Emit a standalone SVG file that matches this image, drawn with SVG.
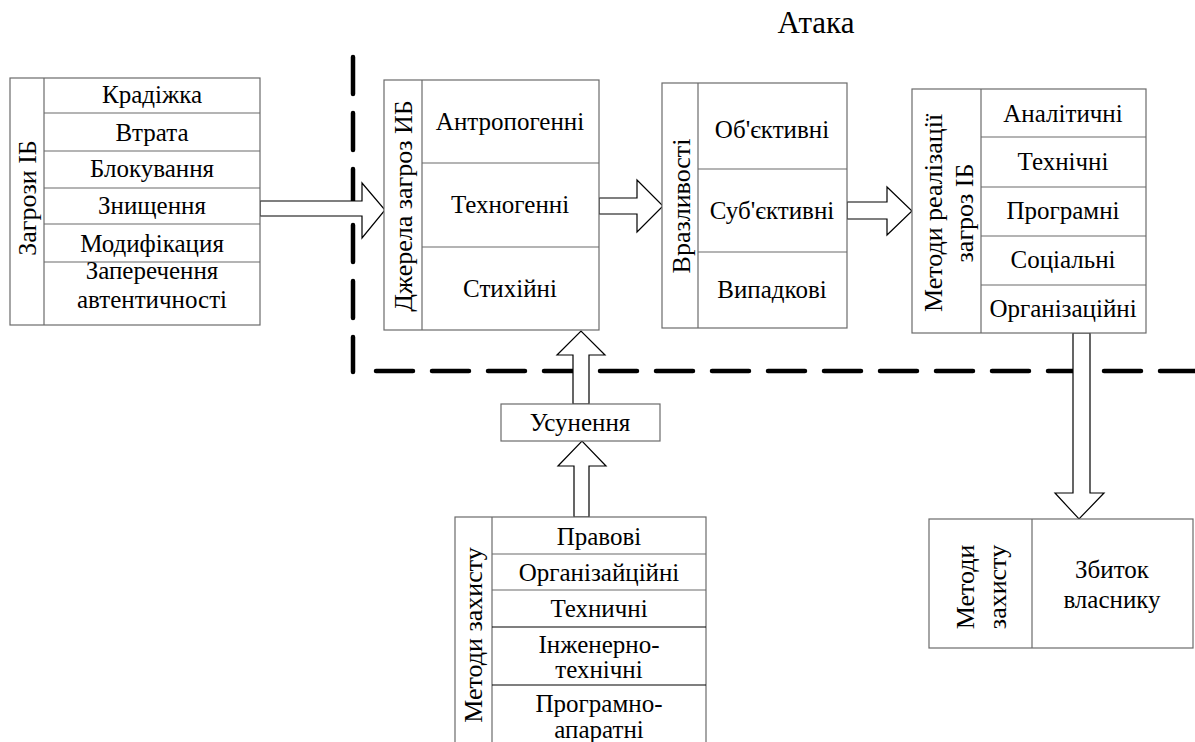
<svg xmlns="http://www.w3.org/2000/svg" width="1195" height="742" viewBox="0 0 1195 742" font-family="'Liberation Serif', 'DejaVu Serif', serif">
<style>
.box{fill:#fff;stroke:#6b6b6b;stroke-width:1.2}
.ln{stroke:#6b6b6b;stroke-width:1.2}
.dk{stroke:#000;stroke-width:1.2}
text{font-family:'Liberation Serif','DejaVu Serif',serif;font-size:25px;fill:#000;text-anchor:middle}
.v{font-size:26px}
.arr{fill:#fff;stroke:#000;stroke-width:1.2;stroke-linejoin:miter}
.dash{stroke:#000;stroke-width:4.5;stroke-dasharray:37 19;stroke-linecap:round;fill:none}
</style>
<text x="816" y="33" style="font-size:31px">Атака</text>
<g id="boundary">
<line class="dash" x1="353" y1="57" x2="353" y2="372"/>
<line class="dash" x1="376" y1="371" x2="1195" y2="371"/>
</g>
<g id="connectors">
<polygon class="arr" points="260,201 362,201 362,183 385,210 362,238 362,216 260,216"/>
<polygon class="arr" points="599,198 637,198 637,180 663,206 637,232 637,214 599,214"/>
<polygon class="arr" points="847,202 887,202 887,187 912,211 887,235 887,219 847,219"/>
<polygon class="arr" points="573,404 573,355 557,355 581,331 605,355 589,355 589,404"/>
<polygon class="arr" points="574,517 574,466 558,466 582,441 606,466 589,466 589,517"/>
<polygon class="arr" points="1073,333 1090,333 1090,493 1104,493 1079,519 1055,493 1073,493"/>
</g>
<g id="zagrozy">
<rect class="box" x="10" y="78" width="250" height="247"/>
<line class="ln" x1="44" y1="78" x2="44" y2="325"/>
<line class="ln" x1="44" y1="113" x2="260" y2="113"/>
<line class="ln" x1="44" y1="151" x2="260" y2="151"/>
<line class="ln" x1="44" y1="188" x2="260" y2="188"/>
<line class="ln" x1="44" y1="224" x2="260" y2="224"/>
<line class="ln" x1="44" y1="262" x2="260" y2="262"/>
<text class="v" transform="translate(36,198) rotate(-90)">Загрози ІБ</text>
<text x="152" y="103">Крадіжка</text>
<text x="152" y="141">Втрата</text>
<text x="152" y="177">Блокування</text>
<text x="152" y="214">Знищення</text>
<text x="152" y="252">Модифікация</text>
<text x="152" y="279">Заперечення</text>
<text x="152" y="308">автентичності</text>
</g>
<g id="dzherela">
<rect class="box" x="384" y="80" width="215" height="250"/>
<line class="ln" x1="422" y1="80" x2="422" y2="330"/>
<line class="ln" x1="422" y1="163" x2="599" y2="163"/>
<line class="ln" x1="422" y1="247" x2="599" y2="247"/>
<text class="v" transform="translate(412,206) rotate(-90)">Джерела загроз ИБ</text>
<text x="510" y="130">Антропогенні</text>
<text x="510" y="213">Техногенні</text>
<text x="510" y="297">Стихійні</text>
</g>
<g id="vrazlyvosti">
<rect class="box" x="662" y="83" width="185" height="245"/>
<line class="ln" x1="698" y1="83" x2="698" y2="328"/>
<line class="ln" x1="698" y1="169" x2="847" y2="169"/>
<line class="ln" x1="698" y1="252" x2="847" y2="252"/>
<text class="v" transform="translate(690,206) rotate(-90)">Вразливості</text>
<text x="772" y="138">Об'єктивні</text>
<text x="772" y="219">Суб'єктивні</text>
<text x="772" y="298">Випадкові</text>
</g>
<g id="metody-realizacii">
<rect class="box" x="912" y="89" width="234" height="244"/>
<line class="ln" x1="981" y1="89" x2="981" y2="333"/>
<line class="ln" x1="981" y1="137" x2="1146" y2="137"/>
<line class="ln" x1="981" y1="187" x2="1146" y2="187"/>
<line class="ln" x1="981" y1="236" x2="1146" y2="236"/>
<line class="ln" x1="981" y1="285" x2="1146" y2="285"/>
<text class="v" transform="translate(942,213) rotate(-90)">Методи реалізації</text>
<text class="v" transform="translate(973,213) rotate(-90)">загроз ІБ</text>
<text x="1063" y="122">Аналітичні</text>
<text x="1063" y="170">Технічні</text>
<text x="1063" y="219">Програмні</text>
<text x="1063" y="268">Соціальні</text>
<text x="1063" y="317">Організаційні</text>
</g>
<g id="usunennia">
<rect class="box" x="501" y="404" width="159" height="37"/>
<text x="580" y="431">Усунення</text>
</g>
<g id="metody-zakhystu">
<rect class="box" x="455" y="517" width="251" height="240"/>
<line class="ln" x1="492" y1="517" x2="492" y2="757"/>
<line class="ln" x1="492" y1="554" x2="706" y2="554"/>
<line class="ln" x1="492" y1="590" x2="706" y2="590"/>
<line class="dk" x1="492" y1="627" x2="706" y2="627"/>
<line class="dk" x1="492" y1="685" x2="706" y2="685"/>
<text class="v" transform="translate(482,635) rotate(-90)">Методи захисту</text>
<text x="599" y="545">Правові</text>
<text x="599" y="581">Організайційні</text>
<text x="599" y="617">Техничні</text>
<text x="599" y="653">Інженерно-</text>
<text x="599" y="678">технічні</text>
<text x="599" y="712">Програмно-</text>
<text x="599" y="738">апаратні</text>
</g>
<g id="zbytok">
<rect class="box" x="929" y="519" width="264" height="129"/>
<line class="ln" x1="1032" y1="519" x2="1032" y2="648"/>
<text class="v" transform="translate(974,587) rotate(-90)">Методи</text>
<text class="v" transform="translate(1006,587) rotate(-90)">захисту</text>
<text x="1112" y="578">Збиток</text>
<text x="1112" y="608">власнику</text>
</g>
</svg>
